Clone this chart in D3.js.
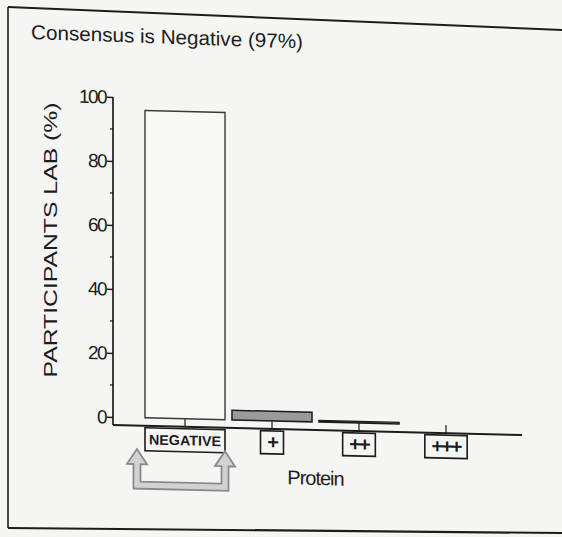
<!DOCTYPE html>
<html>
<head>
<meta charset="utf-8">
<script src="https://cdn.jsdelivr.net/npm/d3@7"></script>
<style>
  html, body { margin: 0; padding: 0; background: #f5f5f3; }
  svg { display: block; }
  text { fill: #1c1c1c; }
</style>
</head>
<body>
<svg id="chart" width="562" height="537"></svg>
<script>
// ---- data ----
const categories = ["NEGATIVE", "+", "++", "+++"];
const values = [96, 3, 0.5, 0];
const yTicks = [0, 20, 40, 60, 80, 100];
const yMinorTicks = [10, 30, 50, 70, 90];
const titleText = "Consensus is Negative (97%)";
const yLabelText = "PARTICIPANTS LAB (%)";
const xLabelText = "Protein";

// ---- layout ----
const W = 562, H = 537;
const ink = "#1c1c1c";
const bg = "#f5f5f3";
const svg = d3.select("#chart");

svg.append("rect").attr("width", W).attr("height", H).attr("fill", bg);

// scanned frame (slightly skewed)
const frame = svg.append("g").attr("stroke", ink).attr("fill", "none");
frame.append("line").attr("x1", 8).attr("y1", 7).attr("x2", 562).attr("y2", 30).attr("stroke-width", 2);
frame.append("line").attr("x1", 8).attr("y1", 7).attr("x2", 8).attr("y2", 528).attr("stroke-width", 1.6);
frame.append("line").attr("x1", 8).attr("y1", 528).attr("x2", 562).attr("y2", 533).attr("stroke-width", 2.2);

// title
svg.append("text")
  .attr("transform", "translate(31,39) skewY(2)")
  .attr("font-family", "Liberation Sans, Arial, sans-serif")
  .attr("font-size", 20)
  .attr("textLength", 272)
  .attr("lengthAdjust", "spacingAndGlyphs")
  .text(titleText);

// y label
svg.append("text")
  .attr("transform", "translate(57,240) rotate(-90)")
  .attr("text-anchor", "middle")
  .attr("font-family", "Liberation Sans, Arial, sans-serif")
  .attr("font-size", 19)
  .attr("textLength", 275)
  .attr("lengthAdjust", "spacingAndGlyphs")
  .text(yLabelText);

// plot group (the scan is slightly sheared)
const g = svg.append("g").attr("transform", "translate(113,0) skewY(1.4)");

const y = d3.scaleLinear().domain([0, 100]).range([417, 97]);
const axisY = 425;
const x = d3.scaleBand().domain(categories).range([28.5, 376.5])
  .paddingInner(0.08).paddingOuter(0.04);

// y axis
const yAxis = g.append("g")
  .call(d3.axisLeft(y).tickValues(yTicks).tickSize(6).tickPadding(1).tickSizeOuter(0));
yAxis.select(".domain").remove();
yAxis.selectAll(".tick line").attr("stroke", ink).attr("stroke-width", 1.5);
yAxis.selectAll(".tick text")
  .attr("font-family", "Liberation Sans, Arial, sans-serif")
  .attr("font-size", 19)
  .attr("letter-spacing", -1.6)
  .attr("fill", ink);
g.append("g").selectAll("line").data(yMinorTicks).join("line")
  .attr("x1", -3).attr("x2", 0)
  .attr("y1", d => y(d)).attr("y2", d => y(d))
  .attr("stroke", ink).attr("stroke-width", 1.2);
g.append("line")
  .attr("x1", 0).attr("x2", 0).attr("y1", y(100)).attr("y2", axisY)
  .attr("stroke", ink).attr("stroke-width", 1.7);

// x axis line + ticks
g.append("line")
  .attr("x1", 0).attr("x2", 409).attr("y1", axisY).attr("y2", axisY)
  .attr("stroke", ink).attr("stroke-width", 2);
const xAxis = g.append("g").attr("transform", `translate(0,${axisY})`)
  .call(d3.axisBottom(x).tickSizeInner(-8).tickSizeOuter(0).tickFormat(""));
xAxis.select(".domain").remove();
xAxis.selectAll(".tick line").attr("stroke", ink).attr("stroke-width", 1.2);

// bars
const barData = categories.map((c, i) => ({ c, v: values[i] })).filter(d => d.v > 0);
g.append("g").selectAll("rect").data(barData).join("rect")
  .attr("x", d => x(d.c))
  .attr("width", x.bandwidth())
  .attr("y", d => y(d.v))
  .attr("height", d => y(0) - y(d.v))
  .attr("fill", (d, i) => i === 0 ? "#f8f8f6" : "#9a9a9a")
  .attr("stroke", (d, i) => i === 0 ? "#3a3a3a" : ink)
  .attr("stroke-width", (d, i) => i === 0 ? 1.4 : 1.5);

// category label boxes
const labels = g.append("g").selectAll("g").data(categories).join("g")
  .attr("transform", d => `translate(${x(d) + x.bandwidth() / 2},${axisY + 2})`);
labels.each(function (d) {
  const sel = d3.select(this);
  const isWord = d === "NEGATIVE";
  const rect = sel.append("rect").attr("fill", bg).attr("stroke", ink).attr("stroke-width", 1.6);
  const t = sel.append("text")
    .attr("text-anchor", "middle")
    .attr("y", isWord ? 16.5 : 18)
    .attr("font-family", "Liberation Sans, Arial, sans-serif")
    .attr("font-size", isWord ? 14 : 20)
    .attr("font-weight", "bold")
    .attr("letter-spacing", isWord ? 0 : -2)
    .text(d);
  if (isWord) t.attr("textLength", 72).attr("lengthAdjust", "spacingAndGlyphs");
  const bw = t.node().getBBox().width;
  const w = isWord ? 80 : bw + 12;
  rect.attr("x", -w / 2).attr("y", 0).attr("width", w).attr("height", 23);
});

// bracket arrows under the NEGATIVE box
const L = x("NEGATIVE") - 8, R = x("NEGATIVE") + x.bandwidth();
const tip = 448.5, base = tip + 15, inner = 481, outer = 488, hw = 10, sw = 3.5;
const arrowPath = [
  [L, tip], [L + hw, base], [L + sw, base], [L + sw, inner], [R - sw, inner],
  [R - sw, base], [R - hw, base], [R, tip], [R + hw, base], [R + sw, base],
  [R + sw, outer], [L - sw, outer], [L - sw, base], [L - hw, base]
];
g.append("path")
  .attr("d", d3.line()(arrowPath) + "Z")
  .attr("fill", "#d2d2d2")
  .attr("stroke", "#8a8a8a")
  .attr("stroke-width", 1.8);

// x label
g.append("text")
  .attr("x", (x.range()[0] + x.range()[1]) / 2)
  .attr("y", 480)
  .attr("text-anchor", "middle")
  .attr("font-family", "Liberation Sans, Arial, sans-serif")
  .attr("font-size", 20)
  .attr("letter-spacing", -1)
  .text(xLabelText);
</script>
</body>
</html>
